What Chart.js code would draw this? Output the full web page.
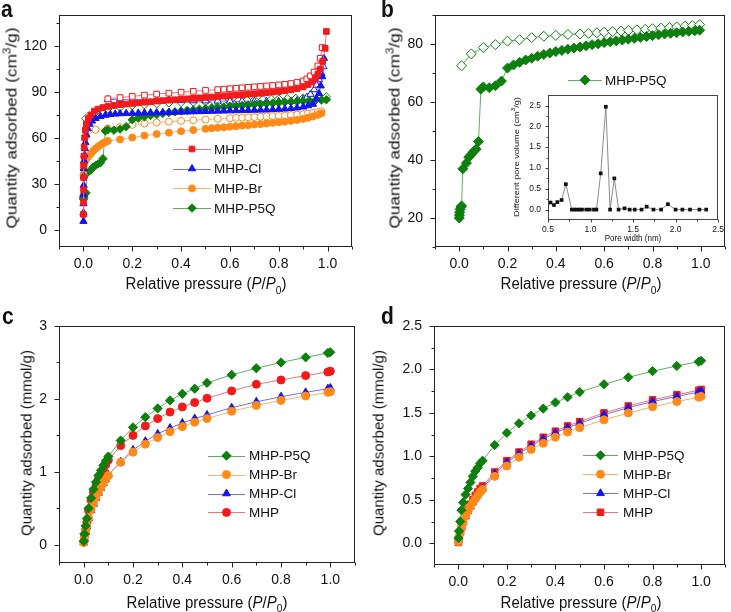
<!DOCTYPE html>
<html><head><meta charset="utf-8">
<script src="https://cdn.jsdelivr.net/npm/chart.js@4.4.1/dist/chart.umd.min.js"></script>
<style>
html,body{margin:0;padding:0;background:#fff;}
#fig{position:relative;width:731px;height:612px;overflow:hidden;background:#fff;font-family:"Liberation Sans",Arial,Helvetica,sans-serif;color:#111;}
canvas{position:absolute;}
.t{position:absolute;white-space:nowrap;transform:translate(-50%,-50%) scaleY(1.15);line-height:1;font-size:15px;}
.r{transform:translate(-50%,-50%) rotate(-90deg) scaleX(1.15);}
.t.n{transform:translate(-50%,-50%) scaleY(1.05);}
.r.n{transform:translate(-50%,-50%) rotate(-90deg);}
.s{font-size:8px;}
.lab{position:absolute;font-weight:bold;font-size:21px;line-height:1;transform:scaleY(1.12);transform-origin:0 0;}
sub,sup{font-size:68%;line-height:0;}
</style></head><body><div id="fig">
<canvas id="ca" width="365" height="300" style="left:0;top:0"></canvas>
<canvas id="cb" width="366" height="300" style="left:365px;top:0"></canvas>
<canvas id="ci" width="226" height="165" style="left:500px;top:86px"></canvas>
<canvas id="cc" width="365" height="312" style="left:0;top:300px"></canvas>
<canvas id="cd" width="366" height="312" style="left:365px;top:300px"></canvas>

<div class="lab" style="left:1px;top:-3px">a</div>
<div class="lab" style="left:381px;top:-3px">b</div>
<div class="lab" style="left:2px;top:304px">c</div>
<div class="lab" style="left:381px;top:304px">d</div>

<div class="t r" style="left:11px;top:128px">Quantity adsorbed (cm<sup>3</sup>/g)</div>
<div class="t" style="left:206px;top:283px">Relative pressure (<i>P</i>/<i>P</i><sub>0</sub>)</div>
<div class="t r" style="left:394px;top:128px">Quantity adsorbed (cm<sup>3</sup>/g)</div>
<div class="t" style="left:581px;top:283px">Relative pressure (<i>P</i>/<i>P</i><sub>0</sub>)</div>
<div class="t r n" style="left:26px;top:443px">Quantity adsorbed (mmol/g)</div>
<div class="t n" style="left:207px;top:602px">Relative pressure (<i>P</i>/<i>P</i><sub>0</sub>)</div>
<div class="t r n" style="left:378px;top:443px">Quantity adsorbed (mmol/g)</div>
<div class="t n" style="left:581px;top:602px">Relative pressure (<i>P</i>/<i>P</i><sub>0</sub>)</div>
<div class="t r s" style="left:517px;top:157px">Different pore volume (cm<sup>3</sup>/g)</div>
<div class="t s" style="left:633px;top:239px">Pore width (nm)</div>
</div>
<script>
// ---------------- DATA ----------------
const seriesNames = ['MHP', 'MHP-Cl', 'MHP-Br', 'MHP-P5Q'];

// Panel a: N2 isotherms (cm3/g), adsorption (filled) and desorption (open)
const mhpAdsP = [0.0001,0.0003,0.0006,0.001,0.0015,0.002,0.003,0.005,0.008,0.012,0.02,0.03,0.045,0.06,0.08,0.1,0.125,0.15,0.175,0.2,0.225,0.25,0.275,0.3,0.325,0.35,0.375,0.4,0.425,0.45,0.475,0.5,0.525,0.55,0.575,0.6,0.625,0.65,0.675,0.7,0.725,0.75,0.775,0.8,0.825,0.85,0.875,0.9,0.92,0.935,0.95,0.96,0.97,0.98,0.99,0.995];
const mhpAdsV = [10,18,26,34,42,48,54,60,65,69,72.5,75,77.5,78.8,79.8,80.5,81.2,81.7,82.1,82.5,82.9,83.3,83.6,84.0,84.3,84.6,84.9,85.2,85.5,85.8,86.1,86.4,86.7,87.0,87.3,87.6,87.9,88.2,88.5,88.8,89.1,89.5,89.9,90.3,90.8,91.4,92.2,93.3,94.8,96.5,99,101.5,105,110,118.5,129.5];
const mhpDesP = [0.1,0.15,0.2,0.25,0.3,0.35,0.4,0.45,0.5,0.55,0.575,0.6,0.625,0.65,0.675,0.7,0.725,0.75,0.775,0.8,0.825,0.85,0.875,0.9,0.915,0.93,0.945,0.96,0.97,0.978];
const mhpDesV = [85.5,86.3,87.1,87.9,88.6,89.2,89.8,90.4,91.0,91.5,91.8,92.1,92.4,92.7,93.0,93.3,93.6,93.9,94.2,94.6,95.0,95.5,96.2,97.2,98.5,100.5,103,107,112,119];

const clAdsP = [0.0001,0.0002,0.0004,0.0007,0.001,0.0015,0.002,0.003,0.004,0.006,0.008,0.012,0.018,0.025,0.035,0.05,0.07,0.09,0.11,0.13,0.15,0.175,0.2,0.225,0.25,0.275,0.3,0.325,0.35,0.375,0.4,0.425,0.45,0.475,0.5,0.525,0.55,0.575,0.6,0.625,0.65,0.675,0.7,0.725,0.75,0.775,0.8,0.825,0.85,0.875,0.9,0.92,0.94,0.955,0.965,0.972,0.978,0.985];
const clAdsV = [5.5,11,17,23,29,35,40,45,49,53,57,62,66,69,71,72.7,74,74.8,75.3,75.6,75.8,76.0,76.1,76.2,76.3,76.4,76.5,76.6,76.7,76.8,76.9,77.0,77.1,77.2,77.3,77.4,77.5,77.6,77.7,77.8,77.9,78.0,78.1,78.2,78.3,78.5,78.7,78.9,79.2,79.6,80.2,81,82,85.5,89,94,100,112];
const clDesP = [0.1,0.15,0.2,0.25,0.3,0.35,0.4,0.45,0.5,0.55,0.6,0.65,0.7,0.75,0.8,0.85,0.875,0.9,0.915,0.93,0.945,0.955,0.965,0.975,0.983];
const clDesV = [85,85.2,85.0,84.8,84.6,84.5,84.4,84.3,84.2,84.1,84,83.9,83.8,83.7,83.7,83.9,84.3,85.2,86.5,88.5,91.5,94.5,98,102,106.5];

const brAdsP = [0.0005,0.001,0.002,0.004,0.007,0.01,0.015,0.02,0.03,0.04,0.05,0.06,0.07,0.08,0.09,0.1,0.15,0.2,0.25,0.3,0.35,0.4,0.45,0.5,0.525,0.55,0.575,0.6,0.625,0.65,0.675,0.7,0.725,0.75,0.775,0.8,0.825,0.85,0.875,0.9,0.92,0.94,0.96,0.975];
const brAdsV = [36,40,42.5,44,45,46,47,48,49.5,51.5,53,54.3,55.4,56.5,57.3,58,59,60.2,61.5,62.5,63.4,64.3,65.1,65.9,66.3,66.6,66.9,67.3,67.6,68,68.3,68.7,69,69.4,69.8,70.2,70.6,71.1,71.7,72.4,73.1,74,75,76];
const brDesP = [0.01,0.05,0.1,0.15,0.2,0.25,0.3,0.35,0.4,0.45,0.5,0.55,0.6,0.625,0.65,0.675,0.7,0.725,0.75,0.775,0.8,0.825,0.85,0.875,0.9,0.92,0.94,0.96,0.975];
const brDesV = [61,65.3,66.2,67,68.5,69.4,70,70.6,71.1,71.5,72,72.4,72.8,73,73.2,73.4,73.6,73.8,74,74.2,74.4,74.6,74.9,75.2,75.5,75.9,76.3,76.8,77.3];

const p5qAdsP = [0.0005,0.001,0.002,0.004,0.007,0.01,0.015,0.03,0.04,0.05,0.06,0.07,0.08,0.09,0.1,0.125,0.15,0.175,0.2,0.225,0.25,0.275,0.3,0.325,0.35,0.375,0.4,0.425,0.45,0.475,0.5,0.525,0.55,0.575,0.6,0.625,0.65,0.675,0.7,0.725,0.75,0.775,0.8,0.825,0.85,0.875,0.9,0.925,0.95,0.975,0.995];
const p5qAdsV = [20,21,22,23,23.8,24.2,37,39,41,42,43,43.8,46.4,64.5,65.3,65.0,65.7,67.3,71.8,72.9,73.8,74.6,75.2,75.9,76.5,77.0,77.5,77.9,78.3,78.7,79.1,79.5,79.9,80.2,80.6,80.9,81.2,81.5,81.8,82.1,82.4,82.7,83.0,83.3,83.6,83.8,84.0,84.3,84.5,84.7,84.9];
const p5qDesP = [0.01,0.05,0.1,0.15,0.2,0.25,0.3,0.35,0.4,0.45,0.5,0.535,0.57,0.6,0.635,0.67,0.7,0.735,0.77,0.8,0.835,0.87,0.9,0.935,0.965,0.995];
const p5qDesV = [72.6,76.7,78.9,79.9,81.1,81.6,82.3,82.8,83.1,83.4,83.6,83.8,84,84.2,84.4,84.6,84.8,85,85.2,85.4,85.6,85.8,86,86.3,86.5,86.8];

// Panel b inset: pore size distribution of MHP-P5Q
const poreWidth = [0.49,0.53,0.57,0.61,0.66,0.71,0.78,0.81,0.84,0.87,0.90,0.95,0.99,1.04,1.07,1.12,1.18,1.23,1.28,1.33,1.40,1.46,1.52,1.60,1.66,1.74,1.83,1.91,2.00,2.08,2.17,2.28,2.36];
const poreVolume = [0.06,0.17,0.11,0.18,0.23,0.61,0,0,0,0,0,0,0,0,0,0.87,2.47,0,0.75,0,0.03,0,0,0,0.07,0,0,0.13,0,0,0,0,0];

// Panels c and d: gas uptake (mmol/g)
const cdP = [0.0005,0.003,0.008,0.013,0.02,0.03,0.04,0.05,0.06,0.07,0.08,0.09,0.1,0.15,0.2,0.25,0.3,0.35,0.4,0.45,0.5,0.6,0.7,0.8,0.9,0.99,1.0];
const cP5Q = [0.05,0.15,0.26,0.36,0.5,0.64,0.76,0.86,0.95,1.02,1.09,1.15,1.21,1.43,1.61,1.75,1.87,1.98,2.07,2.14,2.22,2.33,2.42,2.5,2.57,2.63,2.64];
const cBr  = [0.03,0.1,0.18,0.26,0.37,0.48,0.57,0.65,0.72,0.79,0.85,0.9,0.95,1.13,1.27,1.38,1.47,1.55,1.62,1.68,1.73,1.83,1.91,1.98,2.04,2.09,2.1];
const cCl  = [0.03,0.09,0.17,0.25,0.36,0.47,0.56,0.64,0.71,0.78,0.84,0.9,0.96,1.14,1.3,1.42,1.52,1.6,1.67,1.73,1.78,1.88,1.96,2.03,2.09,2.14,2.15];
const cMHP = [0.04,0.12,0.21,0.31,0.47,0.61,0.72,0.82,0.9,0.97,1.04,1.1,1.16,1.36,1.5,1.63,1.73,1.82,1.89,1.95,2.01,2.11,2.2,2.26,2.32,2.37,2.38];
const dP5Q = [0.06,0.14,0.25,0.38,0.47,0.56,0.63,0.7,0.77,0.83,0.87,0.92,0.95,1.13,1.27,1.38,1.47,1.55,1.62,1.68,1.74,1.83,1.91,1.98,2.04,2.09,2.1];
const dBr  = [0.02,0.07,0.13,0.18,0.24,0.31,0.37,0.42,0.47,0.51,0.55,0.59,0.62,0.77,0.89,0.99,1.08,1.15,1.22,1.28,1.33,1.42,1.5,1.57,1.63,1.68,1.69];
const dCl  = [0.03,0.07,0.13,0.18,0.24,0.31,0.37,0.42,0.47,0.52,0.56,0.6,0.63,0.8,0.93,1.03,1.12,1.2,1.27,1.33,1.38,1.48,1.56,1.63,1.69,1.74,1.75];
const dMHP = [0.01,0.06,0.13,0.19,0.26,0.33,0.39,0.45,0.5,0.55,0.59,0.63,0.66,0.82,0.95,1.05,1.14,1.22,1.29,1.35,1.4,1.5,1.58,1.65,1.71,1.76,1.77];

// Tick values
const xMajor = [0, 0.2, 0.4, 0.6, 0.8, 1.0];
const xMinor = [-0.1, 0.1, 0.3, 0.5, 0.7, 0.9, 1.1];
const aYMajor = [0, 30, 60, 90, 120];
const aYMinor = [15, 45, 75, 105, 135];
const bYMajor = [20, 40, 60, 80];
const bYMinor = [10, 30, 50, 70, 90];
const cYMajor = [0, 1, 2, 3];
const cYMinor = [0.5, 1.5, 2.5];
const dYMajor = [0, 0.5, 1.0, 1.5, 2.0, 2.5];
const dYMinor = [0.25, 0.75, 1.25, 1.75, 2.25];
const iXMajor = [0.5, 1.0, 1.5, 2.0, 2.5];
const iXMinor = [0.75, 1.25, 1.75, 2.25];
const iYMajor = [0, 0.5, 1.0, 1.5, 2.0, 2.5];
const iYMinor = [0.25, 0.75, 1.25, 1.75, 2.25];

// ---------------- STYLE ----------------
const FONT = '"Liberation Sans", Arial, Helvetica, sans-serif';
const C = {
  red:   {m: '#f21a1a', l: '#f47272'},
  blue:  {m: '#1414f0', l: '#7070f2'},
  orange:{m: '#ff8a17', l: '#fbb070'},
  green: {m: '#0c7f0c', l: '#5fae5f'}
};

function mk(P, V) { return P.map((p, i) => ({x: p, y: V[i]})); }
function ds(label, P, V, style, col, open, r) {
  return {
    label, data: mk(P, V), showLine: true, borderColor: col.l, borderWidth: 1,
    pointStyle: style, pointRadius: r, pointHoverRadius: r,
    pointBackgroundColor: open ? '#fff' : col.m, pointBorderColor: col.m, pointBorderWidth: 1,
    tension: 0, fill: false
  };
}

const framePlugin = {
  id: 'frame',
  afterDraw(chart, args, o) {
    const ctx = chart.ctx, a = chart.chartArea;
    const xs = chart.scales.x, ys = chart.scales.y;
    ctx.save();
    ctx.strokeStyle = o.color || '#222';
    ctx.lineWidth = 1;
    const L = Math.round(a.left) + 0.5, T = Math.round(a.top) + 0.5;
    const R = Math.round(a.right) - 0.5, B = Math.round(a.bottom) - 0.5;
    ctx.strokeRect(L, T, R - L, B - T);
    ctx.beginPath();
    const xt = (vals, len) => vals.forEach(v => { const px = Math.round(xs.getPixelForValue(v)) + 0.5; ctx.moveTo(px, B); ctx.lineTo(px, B + len); });
    const yt = (vals, len) => vals.forEach(v => { const py = Math.round(ys.getPixelForValue(v)) + 0.5; ctx.moveTo(L, py); ctx.lineTo(L - len, py); });
    xt(o.majorX, o.major); xt(o.minorX, o.minor);
    yt(o.majorY, o.major); yt(o.minorY, o.minor);
    ctx.stroke();
    ctx.restore();
  }
};

const legendPlugin = {
  id: 'lg',
  afterDraw(chart, args, o) {
    if (!o.items) return;
    const ctx = chart.ctx;
    ctx.save();
    o.items.forEach((idx, i) => {
      const d = chart.data.datasets[idx];
      const y = o.y + i * o.dy;
      ctx.strokeStyle = d.borderColor; ctx.lineWidth = 1;
      ctx.beginPath(); ctx.moveTo(o.x0, Math.round(y) + 0.5); ctx.lineTo(o.x1, Math.round(y) + 0.5); ctx.stroke();
      ctx.fillStyle = d.pointBackgroundColor; ctx.strokeStyle = d.pointBorderColor;
      Chart.helpers.drawPoint(ctx, {pointStyle: d.pointStyle, radius: d.pointRadius, rotation: 0, borderWidth: 1}, (o.x0 + o.x1) / 2, y);
      ctx.fillStyle = '#111'; ctx.font = o.font; ctx.textBaseline = 'middle'; ctx.textAlign = 'left';
      ctx.fillText(d.label, o.xt, y + 1);
    });
    ctx.restore();
  }
};

function scale(min, max, major, fmt, size, key, val, pad, tl) {
  return {
    type: 'linear', min, max,
    afterBuildTicks: s => { s.ticks = major.map(v => ({value: v})); },
    afterFit: s => { s[key] = val; },
    grid: {display: false, drawTicks: true, tickLength: tl},
    border: {display: false},
    ticks: {autoSkip: false, maxRotation: 0, minRotation: 0, padding: pad, color: '#111',
            font: {family: FONT, size}, callback: v => fmt(v)}
  };
}
const f0 = v => String(Math.round(v));
const f1 = v => v.toFixed(1);

function make(id, datasets, xS, yS, pad, frame, lg) {
  new Chart(document.getElementById(id), {
    type: 'scatter',
    data: {datasets},
    options: {
      responsive: false, animation: false, devicePixelRatio: 1, events: [],
      layout: {padding: pad},
      scales: {x: xS, y: yS},
      plugins: {legend: {display: false}, tooltip: {enabled: false}, frame, lg: lg || {}}
    },
    plugins: [framePlugin, legendPlugin]
  });
}

const TS = 14;
const LS = 13.5;
// Panel a
make('ca', [
  ds(seriesNames[0], mhpAdsP, mhpAdsV, 'rect', C.red, false, 4),
  ds(seriesNames[1], clAdsP, clAdsV, 'triangle', C.blue, false, 4.2),
  ds(seriesNames[2], brAdsP, brAdsV, 'circle', C.orange, false, 3.5),
  ds(seriesNames[3], p5qAdsP, p5qAdsV, 'rectRot', C.green, false, 4.2),
  ds(seriesNames[0] + ' des', mhpDesP, mhpDesV, 'rect', C.red, true, 4),
  ds(seriesNames[1] + ' des', clDesP, clDesV, 'triangle', C.blue, true, 4.2),
  ds(seriesNames[2] + ' des', brDesP, brDesV, 'circle', C.orange, true, 3.5),
  ds(seriesNames[3] + ' des', p5qDesP, p5qDesV, 'rectRot', C.green, true, 4.2)
],
  scale(-0.1, 1.1, xMajor, f1, TS, 'height', 53, 4, 5),
  scale(-11.3, 140, aYMajor, f0, TS, 'width', 59, 7, 5),
  {left: 0, top: 8, right: 13, bottom: 0},
  {majorX: xMajor, minorX: xMinor, majorY: aYMajor, minorY: aYMinor, major: 5, minor: 3},
  {items: [0, 1, 2, 3], x0: 173, x1: 211, xt: 214, y: 149, dy: 19.7, font: LS + 'px ' + FONT}
);

// Panel b
make('cb', [
  ds(seriesNames[3], p5qAdsP, p5qAdsV, 'rectRot', C.green, false, 5),
  ds(seriesNames[3] + ' des', p5qDesP, p5qDesV, 'rectRot', C.green, true, 5)
],
  scale(-0.1, 1.1, xMajor, f1, TS, 'height', 53, 4, 5),
  scale(10, 90, bYMajor, f0, TS, 'width', 70, 7, 5),
  {left: 0, top: 10, right: 4, bottom: 0},
  {majorX: xMajor, minorX: xMinor, majorY: bYMajor, minorY: bYMinor, major: 5, minor: 3},
  {items: [0], x0: 203, x1: 237, xt: 240, y: 80, dy: 0, font: LS + 'px ' + FONT}
);

// Inset
make('ci', [
  {label: 'PSD', data: mk(poreWidth, poreVolume), showLine: true, borderColor: '#8a8a8a', borderWidth: 1,
   pointStyle: 'rect', pointRadius: 2.6, pointBackgroundColor: '#111', pointBorderColor: '#111', pointBorderWidth: 0, tension: 0}
],
  scale(0.5, 2.5, iXMajor, f1, 8.5, 'height', 31, 2, 3),
  scale(-0.25, 2.75, iYMajor, f1, 8.5, 'width', 48, 4, 3),
  {left: 0, top: 8, right: 7, bottom: 0},
  {majorX: iXMajor, minorX: iXMinor, majorY: iYMajor, minorY: iYMinor, major: 3, minor: 2, color: '#444'},
  null
);

// Panel c
make('cc', [
  ds(seriesNames[3], cdP, cP5Q, 'rectRot', C.green, false, 4.6),
  ds(seriesNames[2], cdP, cBr, 'circle', C.orange, false, 4),
  ds(seriesNames[1], cdP, cCl, 'triangle', C.blue, false, 4.5),
  ds(seriesNames[0], cdP, cMHP, 'circle', C.red, false, 4)
],
  scale(-0.1, 1.1, xMajor, f1, TS, 'height', 49, 4, 5),
  scale(-0.25, 3, cYMajor, f0, TS, 'width', 59, 7, 5),
  {left: 0, top: 26, right: 10, bottom: 0},
  {majorX: xMajor, minorX: xMinor, majorY: cYMajor, minorY: cYMinor, major: 5, minor: 3},
  {items: [0, 1, 2, 3], x0: 208, x1: 245, xt: 249, y: 155.7, dy: 18.9, font: LS + 'px ' + FONT}
);

// Panel d
make('cd', [
  ds(seriesNames[3], cdP, dP5Q, 'rectRot', C.green, false, 4.6),
  ds(seriesNames[2], cdP, dBr, 'circle', C.orange, false, 4),
  ds(seriesNames[1], cdP, dCl, 'triangle', C.blue, false, 4.5),
  ds(seriesNames[0], cdP, dMHP, 'rect', C.red, false, 4.6)
],
  scale(-0.1, 1.1, xMajor, f1, TS, 'height', 47, 4, 5),
  scale(-0.25, 2.5, dYMajor, f1, TS, 'width', 69, 7, 5),
  {left: 0, top: 26, right: 4, bottom: 0},
  {majorX: xMajor, minorX: xMinor, majorY: dYMajor, minorY: dYMinor, major: 5, minor: 3},
  {items: [0, 1, 2, 3], x0: 218, x1: 253, xt: 258, y: 155.3, dy: 19, font: LS + 'px ' + FONT}
);
</script>
</body></html>
